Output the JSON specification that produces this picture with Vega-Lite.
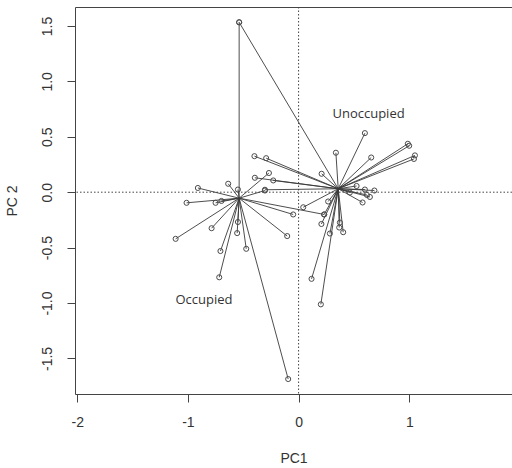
{
  "$schema": "https://vega.github.io/schema/vega-lite/v6.json",
  "width": 437,
  "height": 387,
  "autosize": {"type": "none"},
  "padding": {"left": 75, "top": 7, "right": 0, "bottom": 74},
  "background": "white",
  "config": {"view": {"stroke": null}, "font": "Liberation Sans"},
  "resolve": {"axis": {"x": "independent", "y": "independent"}},
  "datasets": {
    "pts": [
      {"group": "Occupied", "x": -0.537, "y": 1.533},
      {"group": "Occupied", "x": -0.910, "y": 0.038},
      {"group": "Occupied", "x": -0.636, "y": 0.076},
      {"group": "Occupied", "x": -0.548, "y": 0.024},
      {"group": "Occupied", "x": -1.012, "y": -0.096},
      {"group": "Occupied", "x": -0.750, "y": -0.096},
      {"group": "Occupied", "x": -0.697, "y": -0.079},
      {"group": "Occupied", "x": -0.786, "y": -0.325},
      {"group": "Occupied", "x": -1.111, "y": -0.421},
      {"group": "Occupied", "x": -0.548, "y": -0.269},
      {"group": "Occupied", "x": -0.555, "y": -0.369},
      {"group": "Occupied", "x": -0.706, "y": -0.531},
      {"group": "Occupied", "x": -0.473, "y": -0.511},
      {"group": "Occupied", "x": -0.717, "y": -0.768},
      {"group": "Occupied", "x": -0.094, "y": -1.686},
      {"group": "Occupied", "x": -0.103, "y": -0.396},
      {"group": "Occupied", "x": -0.049, "y": -0.201},
      {"group": "Occupied", "x": -0.304, "y": 0.015},
      {"group": "Occupied", "x": -0.268, "y": 0.173},
      {"group": "Occupied", "x": 0.231, "y": -0.201},
      {"group": "Unoccupied", "x": -0.537, "y": 1.533},
      {"group": "Unoccupied", "x": 0.599, "y": 0.533},
      {"group": "Unoccupied", "x": 0.337, "y": 0.356},
      {"group": "Unoccupied", "x": 0.656, "y": 0.313},
      {"group": "Unoccupied", "x": 0.987, "y": 0.437},
      {"group": "Unoccupied", "x": 0.999, "y": 0.419},
      {"group": "Unoccupied", "x": 1.051, "y": 0.332},
      {"group": "Unoccupied", "x": 1.042, "y": 0.300},
      {"group": "Unoccupied", "x": 0.208, "y": 0.166},
      {"group": "Unoccupied", "x": 0.524, "y": 0.056},
      {"group": "Unoccupied", "x": 0.599, "y": 0.024},
      {"group": "Unoccupied", "x": 0.685, "y": 0.015},
      {"group": "Unoccupied", "x": 0.617, "y": -0.025},
      {"group": "Unoccupied", "x": 0.644, "y": -0.043},
      {"group": "Unoccupied", "x": 0.578, "y": -0.093},
      {"group": "Unoccupied", "x": -0.399, "y": 0.325},
      {"group": "Unoccupied", "x": -0.293, "y": 0.307},
      {"group": "Unoccupied", "x": -0.395, "y": 0.130},
      {"group": "Unoccupied", "x": -0.229, "y": 0.106},
      {"group": "Unoccupied", "x": -0.304, "y": 0.022},
      {"group": "Unoccupied", "x": 0.042, "y": -0.136},
      {"group": "Unoccupied", "x": 0.267, "y": -0.084},
      {"group": "Unoccupied", "x": 0.231, "y": -0.201},
      {"group": "Unoccupied", "x": 0.206, "y": -0.287},
      {"group": "Unoccupied", "x": 0.283, "y": -0.373},
      {"group": "Unoccupied", "x": 0.367, "y": -0.319},
      {"group": "Unoccupied", "x": 0.403, "y": -0.361},
      {"group": "Unoccupied", "x": 0.373, "y": -0.274},
      {"group": "Unoccupied", "x": 0.463, "y": -0.003},
      {"group": "Unoccupied", "x": 0.117, "y": -0.782},
      {"group": "Unoccupied", "x": 0.201, "y": -1.012}
    ],
    "cent": [
      {"group": "Occupied", "cx": -0.537, "cy": -0.054},
      {"group": "Unoccupied", "cx": 0.358, "cy": 0.031}
    ],
    "labels": [
      {"label": "Unoccupied", "x": 0.632, "y": 0.702},
      {"label": "Occupied", "x": -0.855, "y": -0.969}
    ]
  },
  "layer": [
    {
      "data": {"values": [{"v": 0}]},
      "mark": {"type": "rule", "color": "#444", "strokeDash": [1.5, 2], "strokeWidth": 1},
      "encoding": {"x": {"field": "v", "type": "quantitative", "axis": null}}
    },
    {
      "data": {"values": [{"v": 0}]},
      "mark": {"type": "rule", "color": "#444", "strokeDash": [1.5, 2], "strokeWidth": 1},
      "encoding": {"y": {"field": "v", "type": "quantitative", "axis": null}}
    },
    {
      "data": {"name": "pts"},
      "transform": [
        {"lookup": "group", "from": {"data": {"name": "cent"}, "key": "group", "fields": ["cx", "cy"]}}
      ],
      "mark": {"type": "rule", "color": "#3a3a3a", "strokeWidth": 0.9},
      "encoding": {
        "x": {
          "field": "x", "type": "quantitative",
          "scale": {"domain": [-2.02, 1.928], "nice": false, "zero": false},
          "axis": {
            "orient": "bottom",
            "values": [-2, -1, 0, 1],
            "format": "d",
            "labelExpr": "replace(datum.label, '−', '-')",
            "grid": false,
            "domainColor": "#444",
            "tickColor": "#444",
            "tickSize": 8,
            "labelFontSize": 14,
            "labelColor": "#333",
            "labelPadding": 13,
            "title": "PC1",
            "titleFontSize": 14,
            "titleFontWeight": "normal",
            "titleColor": "#333",
            "titleY": 64,
            "titleBaseline": "middle"
          }
        },
        "y": {
          "field": "y", "type": "quantitative",
          "scale": {"domain": [-1.821, 1.671], "nice": false, "zero": false},
          "axis": null
        },
        "x2": {"field": "cx"},
        "y2": {"field": "cy"}
      }
    },
    {
      "data": {"name": "pts"},
      "mark": {"type": "point", "shape": "circle", "filled": false, "size": 26, "stroke": "#4a4a4a", "strokeWidth": 1, "opacity": 1},
      "encoding": {
        "x": {"field": "x", "type": "quantitative", "axis": null},
        "y": {
          "field": "y", "type": "quantitative",
          "axis": {
            "orient": "left",
            "values": [-1.5, -1, -0.5, 0, 0.5, 1, 1.5],
            "format": ".1f",
            "labelExpr": "replace(datum.label, '−', '-')",
            "grid": false,
            "domainColor": "#444",
            "tickColor": "#444",
            "tickSize": 8,
            "labelAngle": -90,
            "labelAlign": "center",
            "labelBaseline": "bottom",
            "labelFontSize": 14,
            "labelColor": "#333",
            "labelPadding": 13,
            "title": "PC 2",
            "titleFontSize": 14,
            "titleFontWeight": "normal",
            "titleColor": "#333",
            "titleAngle": -90,
            "titleX": -63,
            "titleBaseline": "middle"
          }
        }
      }
    },
    {
      "data": {"name": "labels"},
      "mark": {"type": "text", "font": "Open Sans", "fontSize": 13, "color": "#333", "align": "center", "baseline": "middle"},
      "encoding": {
        "x": {
          "field": "x", "type": "quantitative",
          "axis": {"orient": "top", "ticks": false, "labels": false, "title": null, "grid": false, "domainColor": "#444"}
        },
        "y": {"field": "y", "type": "quantitative", "axis": null},
        "text": {"field": "label"}
      }
    }
  ]
}
